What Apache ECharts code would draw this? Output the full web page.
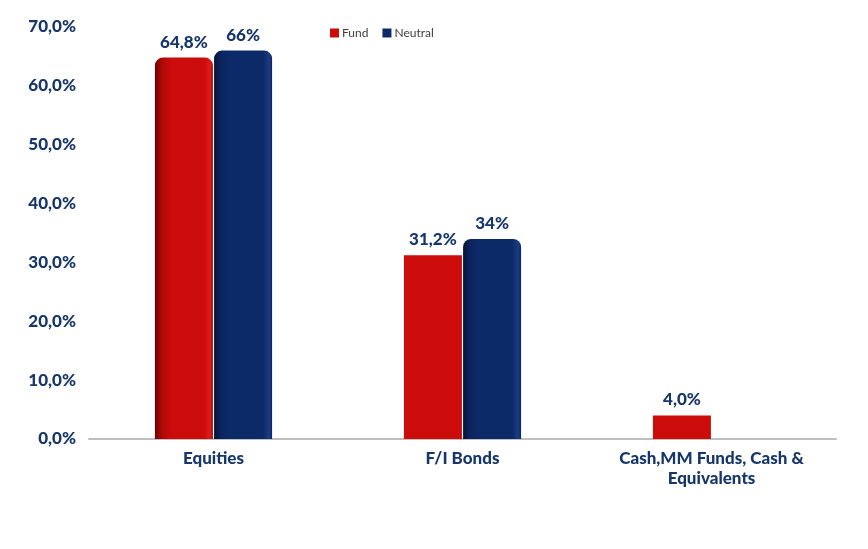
<!DOCTYPE html>
<html><head><meta charset="utf-8">
<script src="https://cdn.jsdelivr.net/npm/echarts@6/dist/echarts.min.js"></script>
<style>html,body{margin:0;padding:0;background:#fff}#c{width:868px;height:549px}</style>
</head><body><div id="c"></div>
<script>
const categories = ['Equities', 'F/I Bonds', 'Cash,MM Funds, Cash &\nEquivalents'];
const fundValues = [64.8, 31.2, 4.0];
const neutralValues = [66, 34, 0];
const fundLabels = ['64,8%', '31,2%', '4,0%'];
const neutralLabels = ['66%', '34%', ''];
const yTicks = [0, 10, 20, 30, 40, 50, 60, 70];

const textColor = '#17376a';
const FONT = 'Lato';
const redGrad = new echarts.graphic.LinearGradient(0,0,1,0,[
  {offset:0,color:'#6e0000'},{offset:0.12,color:'#b00808'},{offset:0.3,color:'#cc0b0b'},
  {offset:0.85,color:'#cc0b0b'},{offset:0.95,color:'#e01a1a'},{offset:1,color:'#b00808'}]);
const blueGrad = new echarts.graphic.LinearGradient(0,0,1,0,[
  {offset:0,color:'#061433'},{offset:0.12,color:'#0b2460'},{offset:0.3,color:'#0d2a68'},
  {offset:0.85,color:'#0d2a68'},{offset:0.95,color:'#1a3c85'},{offset:1,color:'#0b2460'}]);
const rounded = [8,8,0,0];
const fundRadius = [rounded, [0,0,0,0], [0,0,0,0]];
const fundColors = [redGrad, '#cc0b0b', '#cc0b0b'];

const chart = echarts.init(document.getElementById('c'));
chart.setOption({
  animation:false,
  legend:{top:22,left:325,itemWidth:9,itemHeight:9,itemGap:14,icon:'rect',
    textStyle:{fontFamily:'Lato',fontSize:12,color:'#404040',padding:[0,0,0,-2]},
    data:['Fund','Neutral']},
  grid:{left:89,right:32,top:27,bottom:110},
  xAxis:{type:'category',data:categories,
    axisLine:{lineStyle:{color:'#bfbfbf',width:2}},axisTick:{show:false},
    axisLabel:{interval:0,color:textColor,fontFamily:FONT,fontWeight:900,fontSize:17,lineHeight:20,margin:10}},
  yAxis:{type:'value',min:0,max:70,interval:10,
    splitLine:{show:false},axisLine:{show:false},axisTick:{show:false},
    axisLabel:{color:textColor,fontFamily:FONT,fontWeight:900,fontSize:17,margin:13,
      formatter:v=>yTicks.includes(v)?v.toFixed(1).replace('.',',')+'%':''}},
  series:[
    {name:'Fund',type:'bar',barWidth:58,barGap:'2%',itemStyle:{color:'#cc0b0b'},
     data:fundValues.map((v,i)=>({value:v,itemStyle:{color:fundColors[i],borderRadius:fundRadius[i]}})),
     label:{show:true,position:'top',distance:7,color:textColor,fontFamily:FONT,fontWeight:900,fontSize:17,
       formatter:p=>fundLabels[p.dataIndex]}},
    {name:'Neutral',type:'bar',barWidth:58,itemStyle:{color:'#0d2a68'},
     data:neutralValues.map(v=>({value:v,itemStyle:{color:blueGrad,borderRadius:rounded}})),
     label:{show:true,position:'top',distance:7,color:textColor,fontFamily:FONT,fontWeight:900,fontSize:17,
       formatter:p=>neutralLabels[p.dataIndex]}}
  ]
});
</script></body></html>
